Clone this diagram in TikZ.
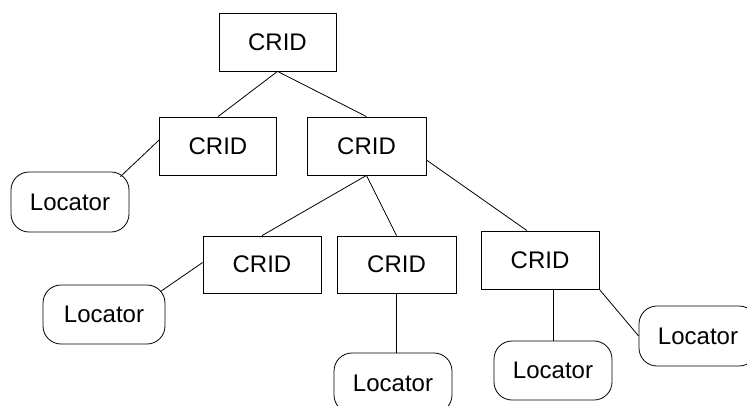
\documentclass[tikz,border=0pt]{standalone}
\usepackage{fontspec}
\setmainfont{Liberation Sans}
\begin{document}
\begin{tikzpicture}[x=1pt, y=-1pt, line width=.8pt,
    crid/.style={draw, fill=white, minimum width=117pt, minimum height=58pt,
        inner sep=0pt, font=\fontsize{24}{28}\selectfont},
    locator/.style={draw, fill=white, rounded corners=18pt, minimum width=118pt,
        minimum height=60pt, inner sep=0pt, font=\fontsize{24}{28}\selectfont}]
    \useasboundingbox (0, 0) rectangle (747, 405);

    \node [crid] (root) at (277.5, 42) {CRID};
    \node [crid] (c1) at (218, 146) {CRID};
    \node [crid, minimum width=119pt] (c2) at (366.5, 146) {CRID};
    \node [crid, minimum width=118pt, minimum height=57pt] (c3) at (262, 264.5) {CRID};
    \node [crid, minimum width=119pt, minimum height=57pt] (c4) at (396.5, 264.5) {CRID};
    \node [crid, minimum width=118pt] (c5) at (540, 260) {CRID};

    \node [locator] (l1) at (70, 202) {Locator};
    \node [locator, minimum width=122pt, minimum height=59pt] (l2) at (104, 314.5) {Locator};
    \node [locator] (l3) at (393, 383) {Locator};
    \node [locator, minimum height=59pt] (l4) at (553, 370.5) {Locator};
    \node [locator] (l5) at (698, 336) {Locator};

    \draw (root.south) -- (c1.north);
    \draw (root.south) -- (c2.north);
    \draw ([yshift=6pt]c1.west) -- ([xshift=-9pt, yshift=-5pt]l1.north east);
    \draw (c2.south) -- (c3.north);
    \draw (c2.south) -- (c4.north);
    \draw ([yshift=-14pt]c2.east) -- ([xshift=-13pt]c5.north);
    \draw ([yshift=2pt]c3.west) -- ([xshift=-5pt, yshift=-7pt]l2.north east);
    \draw ([xshift=-0.5pt]c4.south) -- ([xshift=-0.5pt]c4.south |- l3.north);
    \draw (l4.north) -- (l4.north |- c5.south);
    \draw (c5.south east) -- (l5.west);
\end{tikzpicture}
\end{document}
